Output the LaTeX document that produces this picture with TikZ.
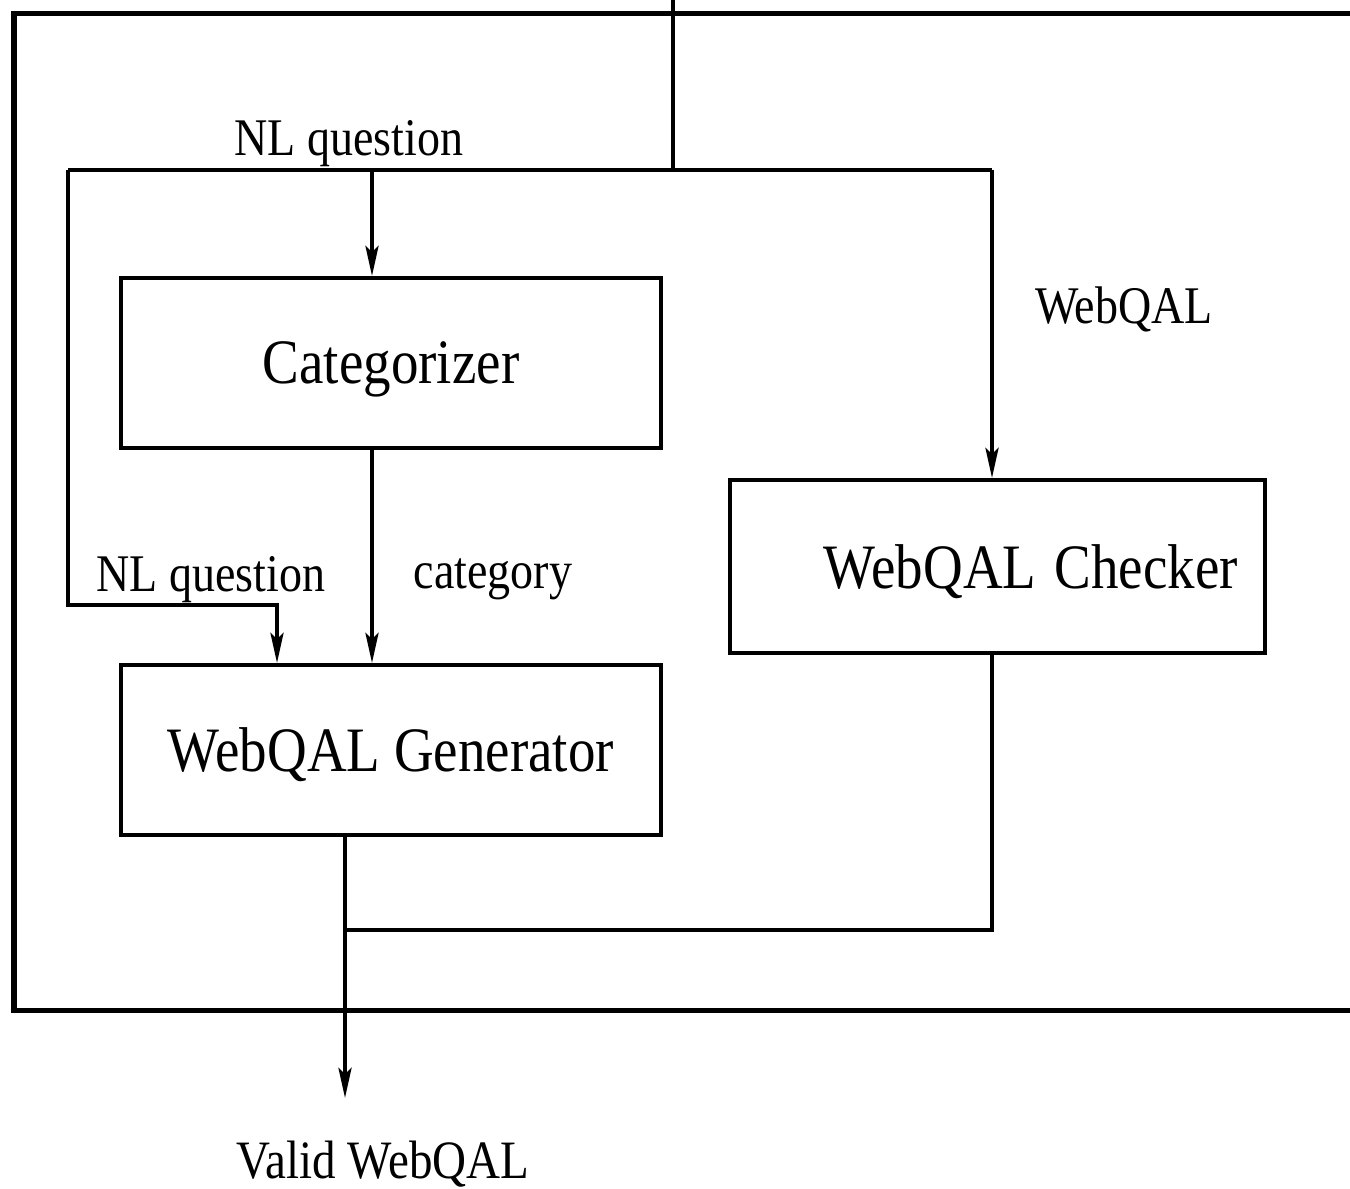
\documentclass[tikz,border=0pt]{standalone}
\usepackage{fontspec}
\setmainfont{Liberation Serif}
\usetikzlibrary{arrows.meta}
% text in this figure is set slightly taller than wide
\newcommand{\tall}[1]{\scalebox{1}[1.15]{#1}}
\tikzset{
  wire/.style={line width=2pt},
  arr/.style={wire, -{Stealth[length=15pt,width=6.5pt,inset=3pt]}},
  module/.style={draw, line width=2pt, rectangle, inner sep=0pt, text depth=0pt,
    font=\fontsize{27.5}{30}\selectfont},
  lbl/.style={inner sep=0pt, text depth=0pt, font=\fontsize{23}{26}\selectfont}
}
\begin{document}
\begin{tikzpicture}[x=0.5pt,y=-0.5pt]
\useasboundingbox (0,0) rectangle (1350,1189);
\fill[white] (0,0) rectangle (1350,1189);

% enclosing system frame (open to the right)
\draw[line width=2.6pt] (1350,13.5) -| (14,1010.5) -- (1350,1010.5);

% modules
\node[module, minimum width=270pt, minimum height=85pt] (cat) at (391,363) {\tall{Categorizer}};
\node[module, minimum width=270pt, minimum height=85pt] (gen) at (391,750) {\tall{WebQAL Generator}};
\node[module, minimum width=267.5pt, minimum height=86.5pt,
      text width=240.5pt, align=right, inner xsep=13.5pt] (chk) at (997.5,566.5) {\tall{WebQAL Checker}};

% routing points
\coordinate (in) at (673,0);
\coordinate (split) at (673,170);
\coordinate (qL) at (68,170);
\coordinate (qC) at (372,170);
\coordinate (qR) at (992,170);
\coordinate (qG) at (277,605);
\coordinate (merge) at (345,930);
\coordinate (out) at (345,1098);

% input question fan-out
\draw[wire] (in) -- (split);
\draw[wire] (qL) -- (qR);
\draw[arr] (qC) -- (qC |- cat.north);
\draw[arr] (qR) -- (qR |- chk.north);
\draw[arr] (qL) |- (qG) -- (qG |- gen.north);
\draw[arr] (cat.south -| qC) -- (gen.north -| qC);

% outputs merge into the result
\draw[wire] (chk.south -| qR) |- (merge);
\draw[arr] (gen.south -| merge) -- (out);

% labels
\node[lbl] (l1) at (349,138) {\tall{NL question}};
\node[lbl] (l2) at (1124,305) {\tall{WebQAL}};
\node[lbl] (l3) at (211,574) {\tall{NL question}};
\node[lbl] (l4) at (493,574) {\tall{category}};
\node[lbl, font=\fontsize{23.5}{26}\selectfont] (res) at (383,1160) {\tall{Valid WebQAL}};
\end{tikzpicture}
\end{document}
